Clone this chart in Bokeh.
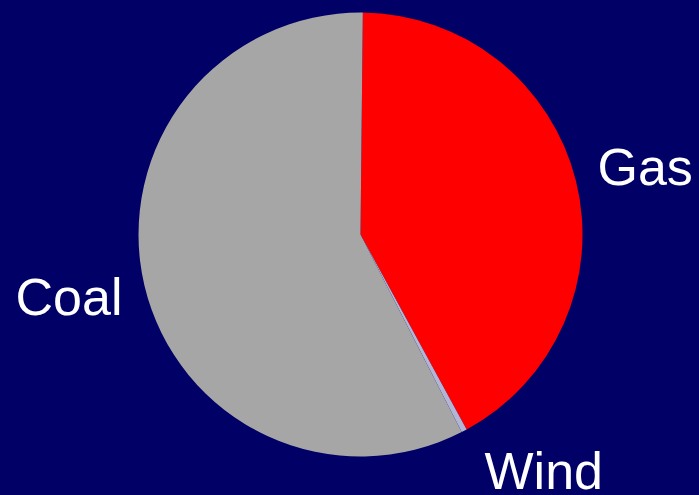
import math
from bokeh.plotting import figure
from bokeh.models import Range1d, ColumnDataSource
from bokeh.core.properties import value
from bokeh.embed import file_html
from bokeh.resources import INLINE

# Data
categories = ["Gas", "Wind", "Coal"]
shares = [41.9, 0.4, 57.7]
colors = ["#ff0000", "#b4b4d4", "#a6a6a6"]

# Label positions (data coordinates, pie centred at 0,0)
label_x = [237, 124, -345]
label_y = [68, -236, -62]

BG = "#000066"
W, H = 699, 495
CX, CY = 360, 234  # pie centre in page pixels (from top-left)
R = 222

total = sum(shares)
start_offset = math.radians(0.6)
starts, ends = [], []
cum = 0.0
for s in shares:
    a0 = cum / total * 2 * math.pi + start_offset
    cum += s
    a1 = cum / total * 2 * math.pi + start_offset
    # clockwise from 12 o'clock -> convert to anticlockwise angles
    starts.append(math.pi / 2 - a1)
    ends.append(math.pi / 2 - a0)

src = ColumnDataSource(dict(cat=categories, share=shares, color=colors,
                            start=starts, end=ends))

p = figure(width=W, height=H, output_backend="svg", toolbar_location=None,
           x_range=Range1d(-CX, W - CX), y_range=Range1d(-(H - CY), CY),
           min_border=0, background_fill_color=BG, border_fill_color=BG,
           outline_line_color=None)
p.axis.visible = False
p.grid.visible = False

p.wedge(x=0, y=0, radius=R, start_angle="start", end_angle="end",
        fill_color="color", line_color=None, source=src)

lsrc = ColumnDataSource(dict(x=label_x, y=label_y, text=categories))
p.text(x="x", y="y", text="text", source=lsrc, text_color="white",
       text_font=value("Liberation Sans"), text_font_size="52px",
       text_align="left", text_baseline="alphabetic")

html = file_html(p, INLINE)
html = html.replace("<head>", "<head><style>html,body{margin:0;padding:0;background:#000066;overflow:hidden}</style>", 1)
open("out.html", "w").write(html)
